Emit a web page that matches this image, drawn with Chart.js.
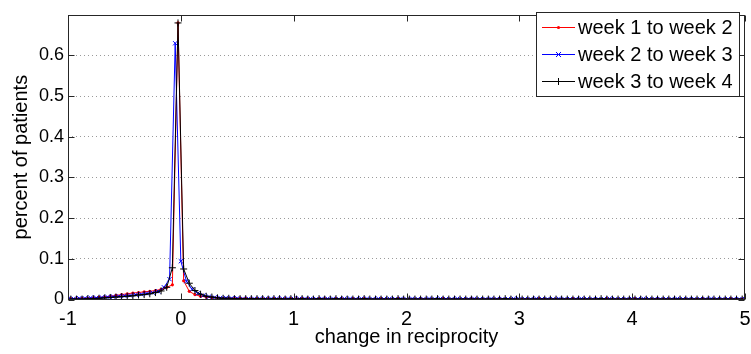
<!DOCTYPE html>
<html>
<head>
<meta charset="utf-8">
<script src="https://cdn.jsdelivr.net/npm/chart.js@4/dist/chart.umd.min.js"></script>
<style>
  html, body { margin: 0; padding: 0; background: #fff; }
  #chart { display: block; }
</style>
</head>
<body>
<canvas id="chart" width="751" height="354"></canvas>
<script>
// bin centres for weeks 1-2 and 3-4
const binsA = [
  -0.975,-0.925,-0.875,-0.825,-0.775,-0.725,-0.675,-0.625,-0.575,-0.525,
  -0.475,-0.425,-0.375,-0.325,-0.275,-0.225,-0.175,-0.125,-0.075,-0.025,
  0.025,0.075,0.125,0.175,0.225,0.275,0.325,0.375,0.425,0.475,
  0.525,0.575,0.625,0.675,0.725,0.775,0.825,0.875,0.925,0.975,
  1.025,1.075,1.125,1.175,1.225,1.275,1.325,1.375,1.425,1.475,
  1.525,1.575,1.625,1.675,1.725,1.775,1.825,1.875,1.925,1.975,
  2.025,2.075,2.125,2.175,2.225,2.275,2.325,2.375,2.425,2.475,
  2.525,2.575,2.625,2.675,2.725,2.775,2.825,2.875,2.925,2.975,
  3.025,3.075,3.125,3.175,3.225,3.275,3.325,3.375,3.425,3.475,
  3.525,3.575,3.625,3.675,3.725,3.775,3.825,3.875,3.925,3.975,
  4.025,4.075,4.125,4.175,4.225,4.275,4.325,4.375,4.425,4.475,
  4.525,4.575,4.625,4.675,4.725,4.775,4.825,4.875,4.925,4.975
];

// bin centres for weeks 2-3
const binsB = [
  -1,-0.95,-0.9,-0.85,-0.8,-0.75,-0.7,-0.65,-0.6,-0.55,
  -0.5,-0.45,-0.4,-0.35,-0.3,-0.25,-0.2,-0.15,-0.1,-0.05,
  0,0.05,0.1,0.15,0.2,0.25,0.3,0.35,0.4,0.45,
  0.5,0.55,0.6,0.65,0.7,0.75,0.8,0.85,0.9,0.95,
  1,1.05,1.1,1.15,1.2,1.25,1.3,1.35,1.4,1.45,
  1.5,1.55,1.6,1.65,1.7,1.75,1.8,1.85,1.9,1.95,
  2,2.05,2.1,2.15,2.2,2.25,2.3,2.35,2.4,2.45,
  2.5,2.55,2.6,2.65,2.7,2.75,2.8,2.85,2.9,2.95,
  3,3.05,3.1,3.15,3.2,3.25,3.3,3.35,3.4,3.45,
  3.5,3.55,3.6,3.65,3.7,3.75,3.8,3.85,3.9,3.95,
  4,4.05,4.1,4.15,4.2,4.25,4.3,4.35,4.4,4.45,
  4.5,4.55,4.6,4.65,4.7,4.75,4.8,4.85,4.9,4.95,
  5
];

const week12 = [
  0.002,0.002,0.003,0.003,0.004,0.005,0.006,0.008,0.010,0.012,
  0.014,0.016,0.017,0.019,0.020,0.022,0.025,0.030,0.036,0.680,
  0.046,0.020,0.012,0.008,0.006,0.005,0.004,0.003,0.003,0.003,
  0.003,0.003,0.002,0.002,0.002,0.002,0.002,0.002,0.002,0.002,
  0.002,0.002,0.002,0.001,0.002,0.002,0.001,0.002,0.002,0.001,
  0.002,0.001,0.002,0.001,0.001,0.002,0.001,0.001,0.002,0.001,
  0.001,0.001,0.002,0.001,0.001,0.001,0.002,0.001,0.001,0.001,
  0.001,0.002,0.001,0.001,0.001,0.001,0.002,0.001,0.001,0.001,
  0.001,0.001,0.001,0.002,0.001,0.001,0.001,0.001,0.001,0.002,
  0.001,0.001,0.001,0.001,0.001,0.002,0.001,0.001,0.001,0.001,
  0.002,0.001,0.001,0.001,0.002,0.001,0.001,0.001,0.001,0.001,
  0.001,0.001,0.002,0.001,0.001,0.001,0.001,0.002,0.001,0.001
];

const week23 = [
  0.002,0.002,0.003,0.003,0.004,0.004,0.005,0.006,0.007,0.008,
  0.009,0.010,0.012,0.013,0.015,0.017,0.020,0.030,0.050,0.630,
  0.094,0.045,0.025,0.015,0.010,0.007,0.005,0.004,0.004,0.003,
  0.003,0.002,0.002,0.002,0.002,0.002,0.002,0.002,0.002,0.002,
  0.002,0.002,0.002,0.002,0.001,0.002,0.002,0.002,0.001,0.002,
  0.002,0.001,0.002,0.002,0.001,0.002,0.001,0.002,0.001,0.002,
  0.001,0.002,0.001,0.001,0.002,0.001,0.002,0.001,0.001,0.002,
  0.001,0.001,0.002,0.001,0.001,0.002,0.001,0.001,0.001,0.002,
  0.001,0.001,0.001,0.002,0.001,0.001,0.001,0.002,0.001,0.001,
  0.001,0.002,0.001,0.001,0.001,0.001,0.002,0.001,0.001,0.001,
  0.001,0.001,0.002,0.001,0.001,0.001,0.001,0.001,0.002,0.001,
  0.001,0.001,0.001,0.001,0.002,0.001,0.001,0.001,0.001,0.001,
  0.001
];

const week34 = [
  0.001,0.001,0.001,0.002,0.002,0.003,0.004,0.005,0.006,0.007,
  0.008,0.009,0.011,0.012,0.014,0.017,0.021,0.030,0.078,0.680,
  0.075,0.040,0.022,0.013,0.008,0.006,0.004,0.003,0.003,0.002,
  0.002,0.002,0.002,0.002,0.002,0.001,0.002,0.002,0.001,0.002,
  0.001,0.002,0.001,0.001,0.002,0.001,0.001,0.002,0.001,0.001,
  0.001,0.001,0.002,0.001,0.001,0.001,0.001,0.001,0.002,0.001,
  0.001,0.001,0.001,0.001,0.001,0.002,0.001,0.001,0.001,0.001,
  0.001,0.001,0.001,0.001,0.001,0.001,0.001,0.002,0.001,0.001,
  0.001,0.001,0.001,0.001,0.001,0.001,0.001,0.001,0.001,0.001,
  0.001,0.001,0.001,0.001,0.002,0.001,0.001,0.001,0.001,0.001,
  0.001,0.001,0.001,0.001,0.001,0.001,0.001,0.001,0.001,0.001,
  0.001,0.001,0.001,0.001,0.001,0.001,0.001,0.001,0.001,0.001
];

const seriesNames = ['week 1 to week 2', 'week 2 to week 3', 'week 3 to week 4'];
const xTicks = [-1, 0, 1, 2, 3, 4, 5];
const yTicks = [0, 0.1, 0.2, 0.3, 0.4, 0.5, 0.6];

const FONT = '"Liberation Sans", Arial, sans-serif';

const toPoints = (xs, ys) => xs.map((x, i) => ({ x: x, y: ys[i] }));

// --- frame, inward tick marks and boxed legend, matlab style ---
const matlabAxes = {
  id: 'matlabAxes',
  afterDraw(chart) {
    const { ctx, chartArea: a, scales } = chart;
    const L = Math.round(a.left) + 0.5, R = Math.round(a.right) - 0.5;
    const T = Math.round(a.top) + 0.5, B = Math.round(a.bottom) - 0.5;
    ctx.save();
    ctx.strokeStyle = '#262626';
    ctx.lineWidth = 1;
    ctx.beginPath();
    xTicks.forEach(v => {
      const px = Math.round(scales.x.getPixelForValue(v)) + 0.5;
      ctx.moveTo(px, B); ctx.lineTo(px, B - 6);
      ctx.moveTo(px, T); ctx.lineTo(px, T + 6);
    });
    yTicks.forEach(v => {
      const py = Math.round(scales.y.getPixelForValue(v)) + 0.5;
      ctx.moveTo(L, py); ctx.lineTo(L + 6, py);
      ctx.moveTo(R, py); ctx.lineTo(R - 6, py);
    });
    ctx.stroke();
    ctx.strokeRect(L, T, R - L, B - T);

    // legend
    const bx = 536.5, by = 12.5, bw = 203, bh = 84;
    ctx.fillStyle = '#fff';
    ctx.fillRect(bx, by, bw, bh);
    ctx.strokeStyle = '#262626';
    ctx.strokeRect(bx, by, bw, bh);
    const colors = ['#ff0000', '#0000ff', '#000000'];
    const rows = [27.5, 54.5, 81.5];
    ctx.font = '20px ' + FONT;
    ctx.textBaseline = 'middle';
    rows.forEach((ry, i) => {
      ctx.strokeStyle = colors[i];
      ctx.fillStyle = colors[i];
      ctx.beginPath();
      ctx.moveTo(542, ry); ctx.lineTo(575, ry);
      ctx.stroke();
      const mx = 558.5;
      ctx.beginPath();
      if (i === 0) {
        ctx.arc(mx, ry, 1.6, 0, Math.PI * 2);
        ctx.fill();
      } else if (i === 1) {
        ctx.moveTo(mx - 2.5, ry - 2.5); ctx.lineTo(mx + 2.5, ry + 2.5);
        ctx.moveTo(mx - 2.5, ry + 2.5); ctx.lineTo(mx + 2.5, ry - 2.5);
        ctx.stroke();
      } else {
        ctx.moveTo(mx, ry - 3.5); ctx.lineTo(mx, ry + 3.5);
        ctx.stroke();
      }
      ctx.fillStyle = '#000';
      ctx.fillText(seriesNames[i], 578, ry + 1);
    });
    ctx.restore();
  }
};

const ctx = document.getElementById('chart').getContext('2d');
new Chart(ctx, {
  type: 'line',
  data: {
    datasets: [
      {
        label: seriesNames[0],
        data: toPoints(binsA, week12),
        borderColor: '#ff0000',
        backgroundColor: '#ff0000',
        borderWidth: 1,
        pointStyle: 'circle',
        pointRadius: 1.6,
        pointBorderWidth: 0,
        order: 2
      },
      {
        label: seriesNames[1],
        data: toPoints(binsB, week23),
        borderColor: '#0000ff',
        backgroundColor: '#0000ff',
        borderWidth: 1,
        pointStyle: 'crossRot',
        pointRadius: 3,
        pointBorderWidth: 1,
        order: 1
      },
      {
        label: seriesNames[2],
        data: toPoints(binsA, week34),
        borderColor: '#000000',
        backgroundColor: '#000000',
        borderWidth: 1,
        pointStyle: 'cross',
        pointRadius: 3.5,
        pointBorderWidth: 1,
        order: 0
      }
    ]
  },
  options: {
    responsive: false,
    animation: false,
    events: [],
    layout: { padding: { top: 7, right: 6, left: 0, bottom: 0 } },
    plugins: {
      legend: { display: false },
      tooltip: { enabled: false }
    },
    scales: {
      x: {
        type: 'linear',
        min: -1,
        max: 5,
        afterBuildTicks: s => { s.ticks = xTicks.map(v => ({ value: v })); },
        afterFit: s => { s.height = 54.5; },
        grid: { display: false },
        border: { display: false },
        ticks: { color: '#000', font: { family: FONT, size: 20 }, padding: 0 },
        title: {
          display: true,
          text: 'change in reciprocity',
          color: '#000',
          font: { family: FONT, size: 20 },
          padding: { top: 0, bottom: 5 }
        }
      },
      y: {
        min: 0,
        max: 0.7,
        afterBuildTicks: s => { s.ticks = yTicks.map(v => ({ value: v })); },
        afterFit: s => { s.width = 68; },
        grid: { color: '#9a9a9a', lineWidth: 1, drawTicks: false },
        border: { display: false, dash: [1, 3] },
        ticks: {
          color: '#000',
          font: { family: FONT, size: 18 },
          padding: 4,
          callback: v => String(v)
        },
        title: {
          display: true,
          text: 'percent of patients',
          color: '#000',
          font: { family: FONT, size: 20 },
          padding: { top: 9, bottom: 0 }
        }
      }
    }
  },
  plugins: [matlabAxes]
});
</script>
</body>
</html>
